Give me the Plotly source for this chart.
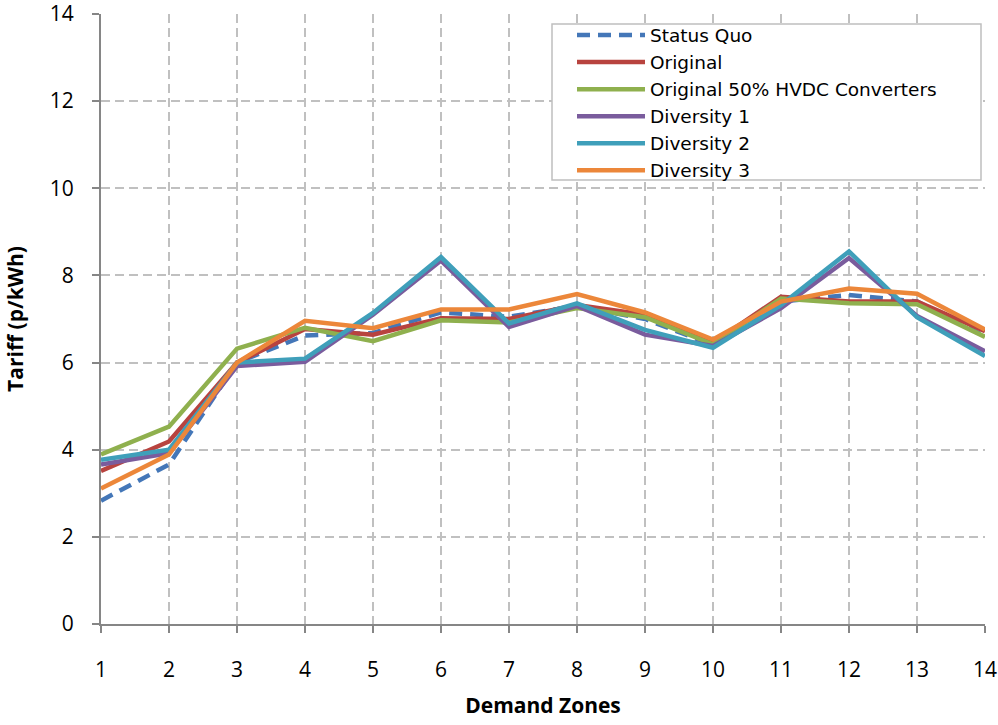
import plotly.graph_objects as go

zones = list(range(1, 15))
status_quo = [2.83, 3.66, 6.0, 6.62, 6.68, 7.15, 7.05, 7.3, 7.0, 6.4, 7.4, 7.55, 7.4, 6.6]
original = [3.51, 4.19, 6.0, 6.77, 6.64, 7.02, 7.0, 7.32, 7.1, 6.45, 7.51, 7.4, 7.4, 6.72]
original_50 = [3.89, 4.53, 6.32, 6.8, 6.49, 6.97, 6.92, 7.25, 7.04, 6.42, 7.47, 7.36, 7.34, 6.59]
diversity1 = [3.66, 3.92, 5.92, 6.02, 7.1, 8.34, 6.82, 7.3, 6.64, 6.38, 7.25, 8.4, 7.07, 6.26]
diversity2 = [3.77, 4.0, 6.0, 6.09, 7.14, 8.42, 6.9, 7.36, 6.75, 6.34, 7.32, 8.55, 7.04, 6.15]
diversity3 = [3.11, 3.89, 6.0, 6.96, 6.79, 7.22, 7.22, 7.57, 7.15, 6.53, 7.4, 7.7, 7.58, 6.76]

series = [
    ("Status Quo", status_quo, "#4477B8", "13px,8px"),
    ("Original", original, "#B8433F", "solid"),
    ("Original 50% HVDC Converters", original_50, "#8FB04E", "solid"),
    ("Diversity 1", diversity1, "#7A5C9D", "solid"),
    ("Diversity 2", diversity2, "#3F9FBA", "solid"),
    ("Diversity 3", diversity3, "#EC873A", "solid"),
]

fig = go.Figure()
for name, vals, color, dash in series:
    fig.add_trace(go.Scatter(x=zones, y=vals, mode="lines", name=name,
                             line=dict(color=color, width=4.5, dash=dash)))

# legend frame (decoration only)
fig.add_shape(type="rect", xref="paper", yref="paper",
              x0=(552 - 101) / 884, x1=(981 - 101) / 884,
              y0=1 - (180 - 14) / 610, y1=1 - (24 - 14) / 610,
              line=dict(color="#BFBFBF", width=1.5), fillcolor="white", layer="above")

font_family = "'Open Sans', Lato, sans-serif"
fig.update_layout(
    width=998, height=725,
    margin=dict(l=101, r=13, t=14, b=101),
    paper_bgcolor="white", plot_bgcolor="white",
    font=dict(family=font_family, size=21, color="#000000"),
    legend=dict(x=(572 - 101) / 884, y=0.9959, xanchor="left", yanchor="top",
                bgcolor="rgba(0,0,0,0)", borderwidth=0,
                font=dict(size=18.5, family="'DejaVu Sans', sans-serif"),
                tracegroupgap=0, itemwidth=68),
    showlegend=True,
)
fig.update_xaxes(
    range=[1, 14], tickmode="array", tickvals=zones, ticktext=[str(z) for z in zones],
    showline=True, linecolor="#868686", linewidth=2,
    ticks="outside", ticklen=7, tickcolor="#868686", tickwidth=2,
    ticklabelstandoff=19, ticklabeloverflow="allow",
    showgrid=True, gridcolor="#C0C0C0", griddash="9px,5px", gridwidth=1.5,
    zeroline=False, automargin=False,
    title=dict(text="<b>Demand Zones</b>", font=dict(size=21), standoff=16),
)
fig.update_yaxes(
    range=[0, 14], tickmode="array", tickvals=list(range(0, 15, 2)),
    showline=True, linecolor="#868686", linewidth=2,
    ticks="outside", ticklen=7, tickcolor="#868686", tickwidth=2,
    ticklabelstandoff=14, ticklabeloverflow="allow",
    showgrid=True, gridcolor="#C0C0C0", griddash="9px,5px", gridwidth=1.5,
    zeroline=False, automargin=False,
    title=dict(text="<b>Tariff (p/kWh)</b>", font=dict(size=21), standoff=20),
)

fig.write_html("out.html", config={"displayModeBar": False},
               post_script="document.body.style.margin='0px';")
